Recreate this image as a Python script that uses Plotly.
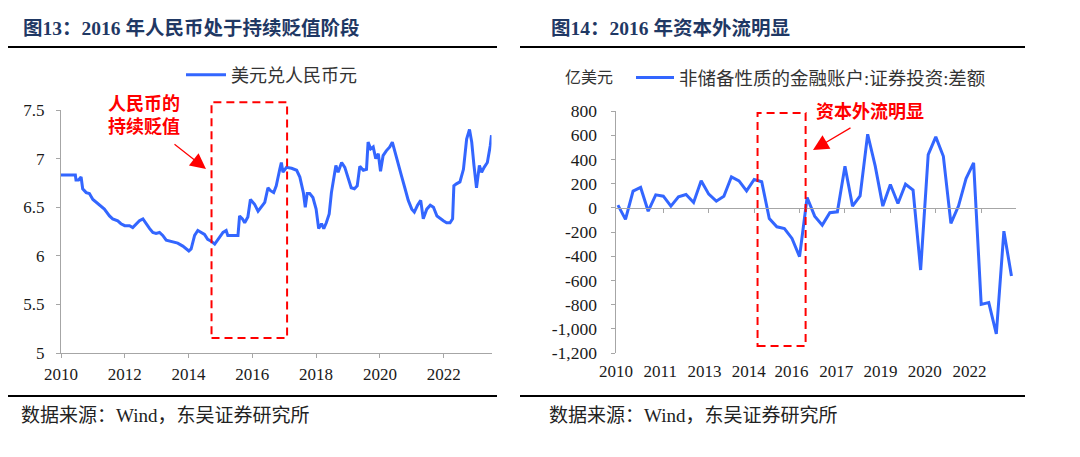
import plotly.graph_objects as go

# ---------------- data: left chart (USD/CNY) ----------------
fx_time = [2010.00, 2010.45, 2010.47, 2010.55, 2010.63, 2010.68, 2010.79, 2010.89, 2011.00, 2011.20,
           2011.36, 2011.52, 2011.62, 2011.78, 2011.88, 2012.00, 2012.15, 2012.25, 2012.36, 2012.46,
           2012.57, 2012.67, 2012.78, 2012.88, 2012.98, 2013.09, 2013.19, 2013.30, 2013.40, 2013.50,
           2013.66, 2013.82, 2013.93, 2014.01, 2014.08, 2014.19, 2014.29, 2014.40, 2014.50, 2014.60,
           2014.71, 2014.82, 2014.87, 2014.97, 2015.08, 2015.18, 2015.23, 2015.29, 2015.55, 2015.60,
           2015.69, 2015.76, 2015.86, 2015.94, 2016.07, 2016.18, 2016.28, 2016.39, 2016.49, 2016.57,
           2016.67, 2016.75, 2016.86, 2016.91, 2016.96, 2017.07, 2017.23, 2017.39, 2017.49, 2017.60,
           2017.66, 2017.72, 2017.80, 2017.90, 2018.00, 2018.08, 2018.17, 2018.24, 2018.32, 2018.41,
           2018.48, 2018.56, 2018.62, 2018.69, 2018.80, 2018.90, 2019.00, 2019.10, 2019.20, 2019.29,
           2019.37, 2019.48, 2019.58, 2019.63, 2019.71, 2019.79, 2019.87, 2019.95, 2020.02, 2020.10,
           2020.20, 2020.31, 2020.39, 2020.47, 2020.58, 2020.68, 2020.79, 2020.89, 2021.00, 2021.08,
           2021.18, 2021.28, 2021.36, 2021.47, 2021.58, 2021.68, 2021.79, 2021.89, 2021.99, 2022.09,
           2022.20, 2022.28, 2022.32, 2022.40, 2022.51, 2022.62, 2022.72, 2022.81, 2022.88, 2022.95,
           2023.03, 2023.12, 2023.19, 2023.27, 2023.37, 2023.46, 2023.50]
fx_rate = [6.83, 6.83, 6.78, 6.78, 6.81, 6.69, 6.65, 6.64, 6.58, 6.52,
           6.48, 6.41, 6.38, 6.36, 6.33, 6.31, 6.31, 6.29, 6.33, 6.36,
           6.38, 6.33, 6.28, 6.24, 6.23, 6.24, 6.21, 6.16, 6.15, 6.14,
           6.13, 6.10, 6.07, 6.05, 6.07, 6.21, 6.26, 6.24, 6.22, 6.17,
           6.15, 6.12, 6.14, 6.19, 6.24, 6.26, 6.21, 6.21, 6.21, 6.41,
           6.38, 6.34, 6.40, 6.58, 6.53, 6.46, 6.50, 6.55, 6.70, 6.67,
           6.65, 6.72, 6.89, 6.96, 6.86, 6.91, 6.90, 6.88, 6.81, 6.65,
           6.50, 6.64, 6.64, 6.60, 6.48, 6.28, 6.33, 6.28, 6.34, 6.43,
           6.65, 6.84, 6.93, 6.86, 6.96, 6.91, 6.81, 6.70, 6.69, 6.72,
           6.92, 6.88, 6.89, 7.17, 7.10, 7.12, 7.00, 7.05, 6.87, 7.03,
           7.08, 7.12, 7.17, 7.08, 6.96, 6.82, 6.69, 6.57, 6.48, 6.45,
           6.52, 6.57, 6.38, 6.48, 6.52, 6.50, 6.41, 6.38, 6.36, 6.34,
           6.34, 6.38, 6.72, 6.74, 6.76, 6.89, 7.20, 7.30, 7.17, 6.93,
           6.70, 6.93, 6.86, 6.91, 6.96, 7.13, 7.24]
left_xticks = [2010, 2012, 2014, 2016, 2018, 2020, 2022]
left_yticks = [5, 5.5, 6, 6.5, 7, 7.5]
left_ytext = ["5", "5.5", "6", "6.5", "7", "7.5"]
left_box_x = [2014.72, 2017.09]
left_box_y = [5.155, 7.58]

# ---------------- data: right chart (portfolio investment balance, quarterly) ----------------
quarters = [f"{y}Q{q}" for y in range(2010, 2023) for q in range(1, 5)] + ["2023Q1"]
flows = [22, -96, 138, 168, -28, 107, 96, 14, 91, 110,
         44, 223, 113, 55, 96, 256, 223, 140, 234, 215,
         -88, -157, -171, -253, -404, 85, -69, -143, -41, -33,
         344, 14, 99, 608, 344, 14, 193, 36, 195, 146,
         -514, 440, 586, 426, -129, 14, 242, 371, -798, -784,
         -1043, -193, -564]
right_label_text = ["2010", "2011", "2013", "2014", "2016", "2017", "2019", "2020", "2022"]
right_label_pos = [-0.25, 5.6, 11.45, 17.3, 22.95, 28.85, 34.7, 40.55, 46.45]
right_tick_pos = [6, 12, 18, 24, 30, 36, 42, 48]
right_yticks = [800, 600, 400, 200, 0, -200, -400, -600, -800, -1000, -1200]
right_ytext = ["800", "600", "400", "200", "0", "-200", "-400", "-600", "-800", "-1,000", "-1,200"]
right_box_x = [18.45, 24.8]
right_box_y = [-1142, 783]

# ---------------- layout helpers (pixels -> paper) ----------------
W, H = 1080, 457
def px(x):
    return x / W
def py(y):
    return 1 - y / H

BLUE = "#3366FF"
RED = "#FF0000"
AX = "#A6A6A6"
NAVY = "#1F3864"
SERIF = "Liberation Serif, Noto Sans CJK SC"
CJK = "Liberation Serif, Noto Sans CJK SC"

L_dom_x = [px(61), px(491.5)]
L_dom_y = [py(353), py(110)]
R_dom_x = [px(615.5), px(1016)]
R_dom_y = [py(353), py(111)]
L_yrange = [5, 7.5]
R_yrange = [-1200, 800]
R_xrange = [-0.32, 52.6]

def left_y_to_paper(v):
    return L_dom_y[0] + (v - L_yrange[0]) / (L_yrange[1] - L_yrange[0]) * (L_dom_y[1] - L_dom_y[0])

zero_pos = R_dom_y[0] + (0 - R_yrange[0]) / (R_yrange[1] - R_yrange[0]) * (R_dom_y[1] - R_dom_y[0])
idx = list(range(len(quarters)))

fig = go.Figure()
fig.add_trace(go.Scatter(x=fx_time, y=fx_rate, mode="lines", name="美元兑人民币元",
                         line=dict(color=BLUE, width=3), xaxis="x", yaxis="y", legend="legend"))
fig.add_trace(go.Scatter(x=idx, y=flows, mode="lines", name="非储备性质的金融账户:证券投资:差额",
                         text=quarters, line=dict(color=BLUE, width=3), xaxis="x2", yaxis="y2",
                         legend="legend2"))
fig.add_trace(go.Scatter(x=[idx[0]], y=[flows[0]], mode="markers", marker=dict(opacity=0),
                         xaxis="x3", yaxis="y2", showlegend=False, hoverinfo="skip"))

tickfont = dict(family="Liberation Serif", size=17, color="#1a1a1a")
rytickfont = dict(family="Liberation Serif", size=17.5, color="#1a1a1a")

fig.update_layout(
    template="none",
    width=W, height=H, margin=dict(l=0, r=0, t=0, b=0, pad=0, autoexpand=False),
    paper_bgcolor="white", plot_bgcolor="white",
    xaxis=dict(domain=L_dom_x, range=[2010, 2023.5], anchor="y", tickmode="array",
               tickvals=left_xticks, ticktext=[str(v) for v in left_xticks], automargin=False,
               showline=True, linecolor=AX, linewidth=1, ticks="outside", ticklen=4, tickcolor=AX,
               showgrid=False, zeroline=False, tickfont=tickfont, ticklabelstandoff=2),
    yaxis=dict(domain=L_dom_y, range=L_yrange, anchor="x", tickmode="array",
               tickvals=left_yticks, ticktext=left_ytext, automargin=False,
               showline=True, linecolor=AX, linewidth=1, ticks="outside", ticklen=4, tickcolor=AX,
               showgrid=False, zeroline=False, tickfont=tickfont, ticklabelstandoff=8),
    xaxis2=dict(domain=R_dom_x, range=R_xrange, anchor="y2", tickmode="array",
                tickvals=right_label_pos, ticktext=right_label_text, ticks="", automargin=False,
                showline=False, showgrid=False, zeroline=False, tickfont=tickfont,
                ticklabelstandoff=6),
    xaxis3=dict(overlaying="x2", range=R_xrange, anchor="free", position=zero_pos,
                tickmode="array", tickvals=right_tick_pos, showticklabels=False, automargin=False,
                showline=True, linecolor=AX, linewidth=1, ticks="outside", ticklen=4, tickcolor=AX,
                showgrid=False, zeroline=False),
    yaxis2=dict(domain=R_dom_y, range=R_yrange, anchor="x2", tickmode="array",
                tickvals=right_yticks, ticktext=right_ytext, automargin=False,
                showline=True, linecolor=AX, linewidth=1, ticks="outside", ticklen=4, tickcolor=AX,
                showgrid=False, zeroline=False, tickfont=rytickfont, ticklabelstandoff=10),
    legend=dict(x=px(181), y=py(75), xanchor="left", yanchor="middle", itemwidth=40,
                bgcolor="rgba(0,0,0,0)", font=dict(family=CJK, size=18, color="#333333")),
    legend2=dict(x=px(631), y=py(78), xanchor="left", yanchor="middle", itemwidth=38,
                 bgcolor="rgba(0,0,0,0)", font=dict(family=CJK, size=18.5, color="#333333")),
    showlegend=True,
)

shapes = []
# header / footer rules
for x0, x1 in [(8, 497), (520, 1025)]:
    shapes.append(dict(type="line", xref="paper", yref="paper", x0=px(x0), x1=px(x1),
                       y0=py(47), y1=py(47), line=dict(color="black", width=2)))
    shapes.append(dict(type="line", xref="paper", yref="paper", x0=px(x0), x1=px(x1),
                       y0=py(396), y1=py(396), line=dict(color="black", width=2)))
# dashed highlight boxes
shapes.append(dict(type="rect", xref="x", yref="paper", x0=left_box_x[0], x1=left_box_x[1],
                   y0=left_y_to_paper(left_box_y[0]), y1=left_y_to_paper(left_box_y[1]),
                   line=dict(color=RED, width=2, dash="8px,5px")))
shapes.append(dict(type="rect", xref="x2", yref="y2", x0=right_box_x[0], x1=right_box_x[1],
                   y0=right_box_y[0], y1=right_box_y[1],
                   line=dict(color=RED, width=2, dash="8px,5px")))
fig.update_layout(shapes=shapes)

ann = []
ann.append(dict(text="<b>图13：2016 年人民币处于持续贬值阶段</b>", xref="paper", yref="paper",
                x=px(21), y=py(28), xanchor="left", yanchor="middle", showarrow=False,
                font=dict(family=SERIF, size=19.5, color=NAVY)))
ann.append(dict(text="<b>图14：2016 年资本外流明显</b>", xref="paper", yref="paper",
                x=px(549), y=py(28), xanchor="left", yanchor="middle", showarrow=False,
                font=dict(family=SERIF, size=19.5, color=NAVY)))
for x0 in (19, 547):
    ann.append(dict(text="数据来源：Wind，东吴证券研究所", xref="paper", yref="paper",
                    x=px(x0), y=py(415), xanchor="left", yanchor="middle", showarrow=False,
                    font=dict(family=SERIF, size=19, color="#222222")))
ann.append(dict(text="亿美元", xref="paper", yref="paper", x=px(589), y=py(78),
                xanchor="center", yanchor="middle", showarrow=False,
                font=dict(family=CJK, size=16, color="#333333")))
ann.append(dict(text="<b>人民币的<br>持续贬值</b>", xref="paper", yref="paper", x=px(144), y=py(116),
                xanchor="center", yanchor="middle", showarrow=False, align="center",
                font=dict(family=CJK, size=18, color=RED)))
ann.append(dict(text="<b>资本外流明显</b>", xref="paper", yref="paper", x=px(870), y=py(112),
                xanchor="center", yanchor="middle", showarrow=False,
                font=dict(family=CJK, size=18, color=RED)))
# arrows
ann.append(dict(text="", xref="paper", yref="paper", x=px(206), y=py(169), ax=-33, ay=-26,
                showarrow=True, arrowhead=2, arrowsize=2.6, arrowwidth=1.2, arrowcolor=RED))
ann.append(dict(text="", xref="paper", yref="paper", x=px(813), y=py(150), ax=39, ay=-23,
                showarrow=True, arrowhead=2, arrowsize=2.6, arrowwidth=1.2, arrowcolor=RED))
fig.update_layout(annotations=ann)

fig.write_html("out.html", config={"displayModeBar": False},
               post_script="document.body.style.margin='0px';")
